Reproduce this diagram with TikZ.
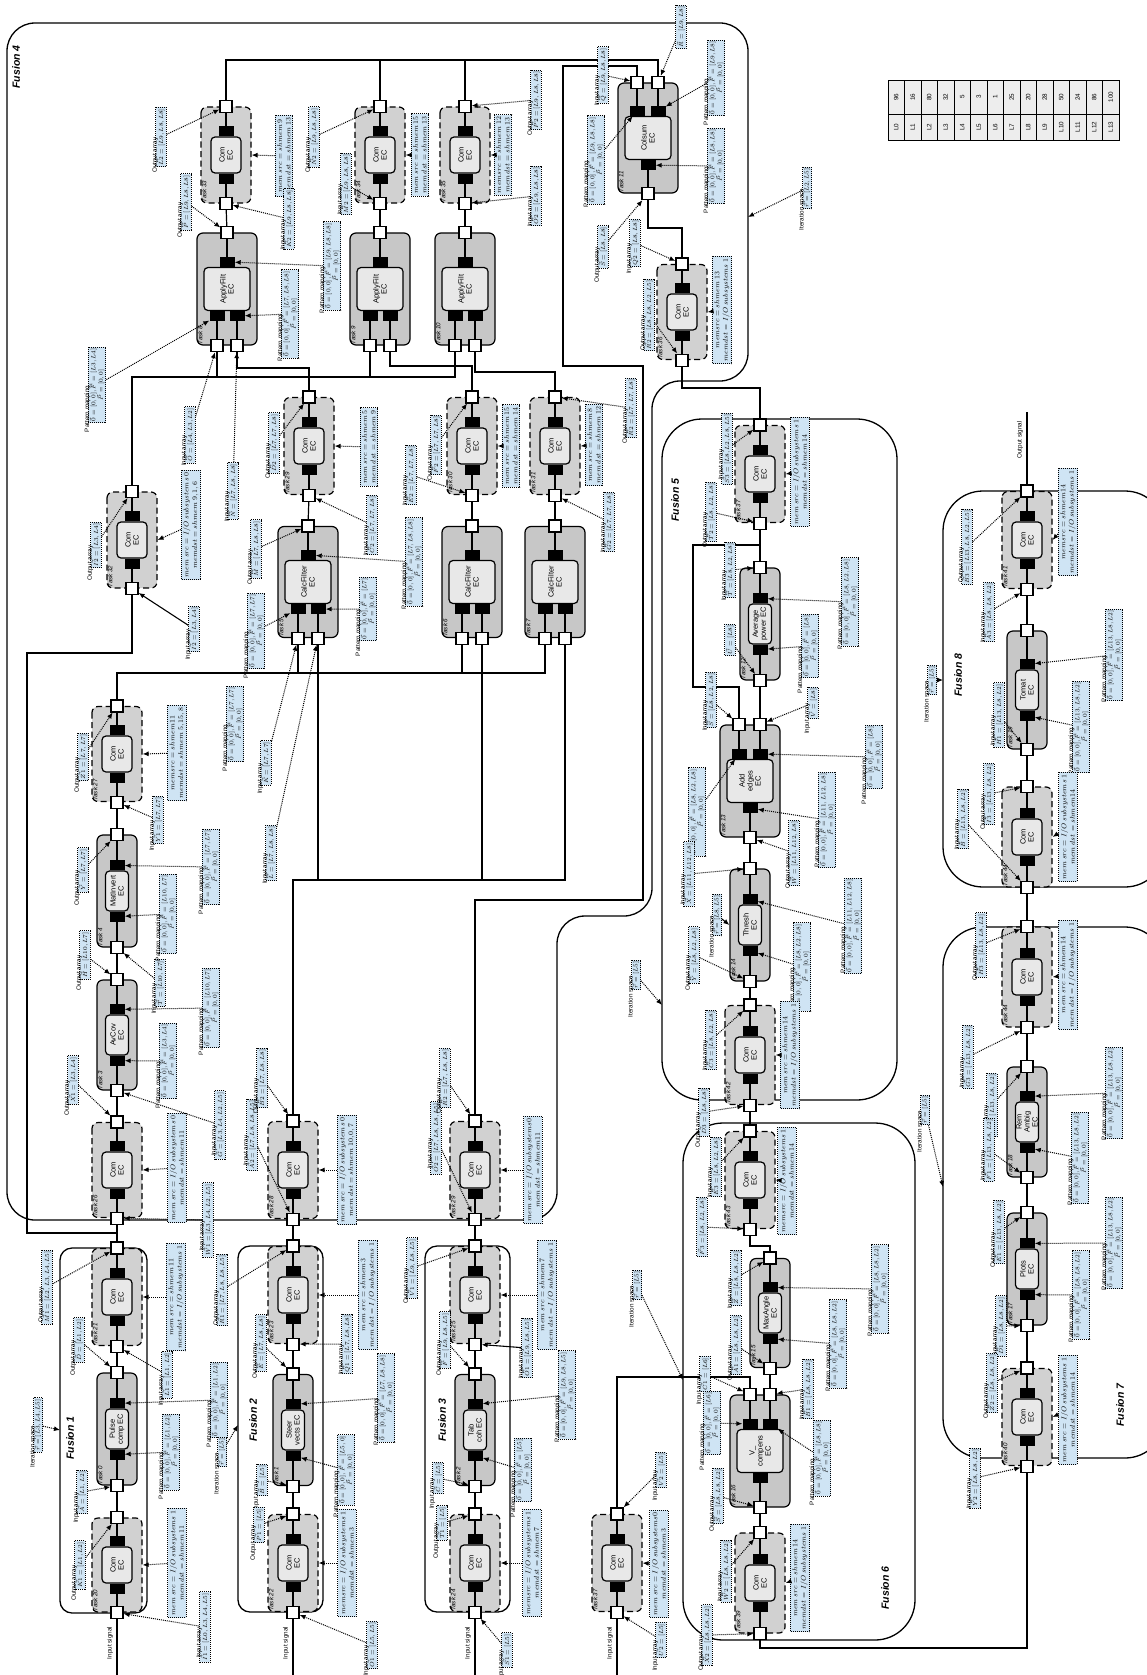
\documentclass[tikz,border=0pt]{standalone}
\usepackage{fontspec}
\setmainfont{Liberation Serif}
\setsansfont{Liberation Sans}
\usetikzlibrary{arrows.meta,calc}
\definecolor{lblue}{HTML}{CFE4F4}
\pgfdeclarelayer{bg}
\pgfsetlayers{bg,main}
\tikzset{
 wire/.style={line width=1.2pt},
 cbox/.style={draw,line width=1.2pt,fill=black!22,rounded corners=6pt,inner sep=0pt},
 mbox/.style={draw,line width=1.2pt,dash pattern=on 6pt off 3.5pt,fill=black!18,rounded corners=6pt,inner sep=0pt},
 ecbox/.style={draw,line width=1.2pt,fill=black!9,rounded corners=4pt,inner sep=0pt,align=center,font=\sffamily\fontsize{7.5}{8}\selectfont},
 ecc/.style={minimum width=40pt,minimum height=23pt},
 ecm/.style={minimum width=36pt,minimum height=30pt},
 ecd/.style={minimum width=43pt,minimum height=46pt},
 bar/.style={fill=black,minimum width=10pt,minimum height=15pt,inner sep=0pt},
 port/.style={draw,line width=1.2pt,fill=white,minimum size=12pt,inner sep=0pt},
 tlab/.style={font=\sffamily\itshape\fontsize{6.2}{6.2}\selectfont,inner sep=1.2pt},
 fus/.style={line width=1.3pt,rounded corners=#1},
 lbox/.style={draw,densely dotted,line width=1pt,fill=lblue,inner sep=1.5pt,align=center,font=\fontsize{6.3}{7.5}\selectfont},
 ltitle/.style={font=\sffamily\fontsize{6.3}{7}\selectfont,inner sep=0.6pt},
 larr/.style={densely dotted,line width=1pt,-{Latex[length=6pt,width=5pt]}},
 sarr/.style={line width=1.1pt,-{Latex[length=6pt,width=5pt]}},
 flab/.style={font=\sffamily\bfseries\itshape\fontsize{10.5}{11}\selectfont},
 tabf/.style={font=\sffamily\fontsize{6.3}{7}\selectfont,inner sep=0pt},
}
\newcommand\TK[9]{%
  \node[#6,minimum width=#4pt,minimum height=#5pt] (#1) at (#2,#3) {};
  \node[ecbox,#7] (#1ec) at (#2,#3) {#8};
  \node[tlab,anchor=north west] at (#1.north west) {#9};}
\newcommand\TP[3]{%
  \foreach \q [count=\k] in {#2}{%
    \draw[wire] ($(#1.east)+(\q,0)$) -- ($(#1ec.east)+(\q,0)$);
    \node[bar] (#1tb\k) at ($(#1ec.east)+(\q,-5)$) {};
    \node[port] (#1t\k) at ($(#1.east)+(\q,0)$) {};}%
  \foreach \q [count=\k] in {#3}{%
    \draw[wire] ($(#1.west)+(\q,0)$) -- ($(#1ec.west)+(\q,0)$);
    \node[bar] (#1bb\k) at ($(#1ec.west)+(\q,5)$) {};
    \node[port] (#1b\k) at ($(#1.west)+(\q,0)$) {};}}
\newcommand\COM[5]{\TK{#1}{#2}{#3}{#4}{50}{mbox}{ecm}{Com\\EC}{#5}\TP{#1}{0}{0}}
\newcommand\CMP[6]{\TK{#1}{#2}{#3}{#4}{40}{cbox}{ecc}{#5}{#6}\TP{#1}{0}{0}}
\newcommand\LB[5]{\node[lbox,label={[ltitle]above:#4}] (#1) at (#2,#3) {#5};}
\newcommand\LBN[4]{\node[lbox] (#1) at (#2,#3) {#4};}
\newcommand\LA[2]{\draw[larr] (#1) -- (#2);}
\newcommand\IA[4]{\LB{#1}{#2}{#3}{Input array}{$#4$}}
\newcommand\OA[4]{\LB{#1}{#2}{#3}{Output array}{$#4$}}
\newcommand\MEM[5]{\node[lbox,inner sep=2.2pt,font=\fontsize{7}{8.5}\selectfont] (#1) at (#2,#3) {$#4$\\$#5$};}
\newcommand\PM[4]{\LB{#1}{#2}{#3}{Pattern mapping}{$\vec{0}=[0,0],\vec{F}=[#4]$\\$\vec{P}=[0,0]$}}
\newcommand\IS[4]{\LB{#1}{#2}{#3}{Iteration space}{$\vec{r}=[#4]$}}
\begin{document}
\begin{tikzpicture}[x={(0,-1pt)},y={(-1pt,0)},rotate=90,transform shape]
\useasboundingbox (0,0) rectangle (1147,1675);
% ---------------- tasks
\COM{t20}{117}{1565}{94}{Task 20}
\CMP{t0}{117}{1429}{112}{Pulse\\comp EC}{Task 0}
\COM{t21}{117}{1297}{97}{Task 21}
\COM{t22}{293}{1563}{97}{Task 22}
\CMP{t1}{293}{1430}{111}{Steer\\vects EC}{Task 1}
\COM{t23}{293}{1295}{97}{Task 23}
\COM{t24}{475}{1563}{97}{Task 24}
\CMP{t2}{475}{1430}{111}{Tab\\coh EC}{Task 2}
\COM{t25}{475}{1295}{97}{Task 25}
\COM{t26}{117}{1170}{95}{Task 26}
\CMP{t3}{117}{1035}{110}{AvCov\\EC}{Task 3}
\CMP{t4}{117}{891}{112}{MatInvert\\EC}{Task 4}
\COM{t27}{117}{754}{95}{Task 27}
\COM{t28}{293}{1170}{97}{Task 28}
\COM{t29}{475}{1170}{97}{Task 29}
\COM{t32}{132}{540}{96}{Task 32}
\TK{t5}{308}{582}{111}{60}{cbox}{ecd}{CalcFilter\\EC}{Task 5}\TP{t5}{0}{-10,10}
\TK{t6}{472}{582}{111}{60}{cbox}{ecd}{CalcFilter\\EC}{Task 6}\TP{t6}{0}{-10,10}
\TK{t7}{555}{582}{111}{60}{cbox}{ecd}{CalcFilter\\EC}{Task 7}\TP{t7}{0}{-10,10}
\COM{t29x}{309}{446}{97}{Task 29}
\COM{t30}{472}{446}{97}{Task 30}
\COM{t31}{555}{446}{97}{Task 31}
\TK{t8}{227}{289}{112}{60}{cbox}{ecd}{ApplyFilt\\EC}{Task 8}\TP{t8}{0}{-10,10}
\TK{t9}{380}{289}{112}{60}{cbox}{ecd}{ApplyFilt\\EC}{Task 9}\TP{t9}{0}{-10,10}
\TK{t10}{465}{289}{112}{60}{cbox}{ecd}{ApplyFilt\\EC}{Task 10}\TP{t10}{0}{-10,10}
\COM{t33}{226}{155}{96}{Task 33}
\COM{t34}{380}{155}{96}{Task 34}
\COM{t35}{465}{155}{96}{Task 35}
\TK{t11}{648}{138}{110}{60}{cbox}{ecd}{Colsum\\EC}{Task 11}\TP{t11}{-11,10}{0}
\COM{t36}{682}{312}{95}{Task 36}
\COM{t37}{760}{474}{97}{Task 37}
\CMP{t12}{760}{624}{112}{Average\\power EC}{Task 12}
\TK{t13}{750}{781}{112}{60}{cbox}{ecd}{Add\\edges\\EC}{Task 13}\TP{t13}{-11,10}{0}
\CMP{t14}{750}{925}{112}{Thresh\\EC}{Task 14}
\COM{t42}{750}{1055}{99}{Task 42}
\COM{t43}{750}{1180}{97}{Task 43}
\CMP{t15}{770}{1313}{109}{MaxAngle\\EC}{Task 15}
\TK{t16}{760}{1451}{112}{60}{cbox}{ecd}{V\_\\compens\\EC}{Task 16}\TP{t16}{-10,10}{0}
\COM{t39}{760}{1583}{100}{Task 39}
\COM{t37x}{617}{1563}{97}{Task 37}
\COM{t41}{1027}{540}{97}{Task 41}
\CMP{t19}{1027}{690}{118}{Tomat\\EC}{Task 19}
\COM{t44}{1027}{837}{100}{Task 44}
\COM{t44x}{1027}{977}{100}{Task 44}
\CMP{t18}{1027}{1122}{110}{Rem\\Ambig\\EC}{Task 18}
\CMP{t17}{1027}{1269}{112}{Plots\\EC}{Task 17}
\COM{t40}{1027}{1417}{97}{Task 40}
% ---------------- frames and wires
\begin{pgfonlayer}{bg}
\draw[fus=12pt] (60,1248) rectangle (147,1613);
\draw[fus=12pt] (238,1246) rectangle (323,1612);
\draw[fus=12pt] (425,1246) rectangle (510,1612);
\draw[fus=28pt] (7,23) -- (748,23) -- (748,381) -- (652,381) -- (652,916) -- (557,916) -- (557,1220) -- (7,1220) -- cycle;
\draw[fus=40pt] (662,419) rectangle (897,1100);
\draw[fus=40pt] (683,1123) rectangle (915,1640);
\draw[fus=40pt] (943,927) rectangle (1165,1458);
\draw[fus=40pt] (943,491) rectangle (1165,887);
\draw[wire] (t20b1) -- (117,1675);
\draw[wire] (t22b1) -- (293,1675);
\draw[wire] (t24b1) -- (475,1675);
\draw[wire] (t37xb1) -- (617,1675);
\draw[wire] (t20t1) -- (t0b1); \draw[wire] (t0t1) -- (t21b1);
\draw[wire] (t22t1) -- (t1b1); \draw[wire] (t1t1) -- (t23b1);
\draw[wire] (t24t1) -- (t2b1); \draw[wire] (t2t1) -- (t25b1);
\draw[wire] (t21t1) -- (t26b1);
\draw[wire] (117,1233) -- (27,1233) -- (27,653) -- (132,653) -- (t32b1);
\draw[wire] (t23t1) -- (t28b1);
\draw[wire] (t25t1) -- (t29b1);
\draw[wire] (t26t1) -- (t3b1); \draw[wire] (t3t1) -- (t4b1); \draw[wire] (t4t1) -- (t27b1);
\draw[wire] (t27t1) -- (117,673) -- (545,673) -- (t7b1);
\draw[wire] (t5b1) -- (298,673); \draw[wire] (t6b1) -- (462,673);
\draw[wire] (t28t1) -- (293,880) -- (565,880) -- (t7b2);
\draw[wire] (t5b2) -- (318,880); \draw[wire] (t6b2) -- (482,880);
\draw[wire] (t29t1) -- (475,900) -- (643,900) -- (643,366) -- (563,366) -- (563,66) -- (637,66) -- (t11t1);
\draw[wire] (t5t1) -- (t29xb1);
\draw[wire] (t6t1) -- (t30b1);
\draw[wire] (t7t1) -- (t31b1);
\draw[wire] (t8b2) -- (237,368) -- (309,368) -- (t29xt1);
\draw[wire] (t9b2) -- (390,366) -- (472,366) -- (t30t1);
\draw[wire] (t10b2) -- (475,372) -- (555,372) -- (t31t1);
\draw[wire] (t32t1) -- (132,377) -- (455,377) -- (t10b1);
\draw[wire] (t8b1) -- (217,377); \draw[wire] (t9b1) -- (370,377);
\draw[wire] (t33b1) -- (t8t1); \draw[wire] (t34b1) -- (t9t1); \draw[wire] (t35b1) -- (t10t1);
\draw[wire] (t33t1) -- (226,60) -- (658,60) -- (t11t2);
\draw[wire] (t34t1) -- (380,60); \draw[wire] (t35t1) -- (465,60);
\draw[wire] (t11b1) -- (648,228) -- (682,228) -- (t36t1);
\draw[wire] (t36b1) -- (682,388) -- (760,388) -- (t37t1);
\draw[wire] (t37b1) -- (t12t1);
\draw[wire] (t12b1) -- (t13t2);
\draw[wire] (t13t1) -- (739,687) -- (693,687) -- (693,545) -- (760,545);
\draw[wire] (t13b1) -- (t14t1); \draw[wire] (t14b1) -- (t42t1); \draw[wire] (t42b1) -- (t43t1);
\draw[wire] (t43b1) -- (750,1246) -- (770,1246) -- (t15t1);
\draw[wire] (t15b1) -- (t16t2);
\draw[wire] (t16t1) -- (750,1377) -- (617,1377) -- (t37xt1);
\draw[wire] (t16b1) -- (t39t1);
\draw[wire] (t39b1) -- (760,1648) -- (1027,1648) -- (t40b1);
\draw[wire] (t40t1) -- (t17b1); \draw[wire] (t17t1) -- (t18b1); \draw[wire] (t18t1) -- (t44xb1);
\draw[wire] (t44xt1) -- (t44b1); \draw[wire] (t44t1) -- (t19b1); \draw[wire] (t19t1) -- (t41b1);
\draw[wire] (t41t1) -- (1027,412);
\end{pgfonlayer}
% ---------------- fusion labels, signals
\node[flab] at (70,1438) {Fusion 1};
\node[flab] at (253,1420) {Fusion 2};
\node[flab] at (442,1420) {Fusion 3};
\node[flab] at (16,67) {Fusion 4};
\node[flab] at (675,500) {Fusion 5};
\node[flab] at (885,1588) {Fusion 6};
\node[flab] at (1120,1405) {Fusion 7};
\node[flab] at (958,675) {Fusion 8};
\node[ltitle] at (110,1643) {Input signal};
\node[ltitle] at (286,1643) {Input signal};
\node[ltitle] at (468,1643) {Input signal};
\node[ltitle] at (610,1643) {Input signal};
\node[ltitle] at (1020,440) {Output signal};
% ---------------- table
\foreach \n/\v [count=\k from 0] in {L0/96,L1/16,L2/80,L3/32,L4/5,L5/3,L6/1,L7/25,L8/20,L9/28,L10/50,L11/24,L12/86,L13/100}{
  \draw[line width=0.8pt,fill=black!7] ({888+16.5*\k},80) rectangle ({904.5+16.5*\k},140);
  \draw[line width=0.8pt] ({888+16.5*\k},114) -- ({904.5+16.5*\k},114);
  \node[tabf] at ({896.25+16.5*\k},97) {\v};
  \node[tabf] at ({896.25+16.5*\k},127) {\n};
}
% ---------------- labels: Fusion 1
\IS{is1}{38}{1425}{L3,L4,L5} \LA{is1}{60,1430}
\OA{l1}{47}{1287}{\vec{M1}=[L2,L3,L4,L5]} \LA{l1}{t21t1}
\OA{l2}{79}{1340}{\vec{D}=[L1,L2]} \LA{l2}{t0t1}
\IA{l3}{167}{1375}{\vec{L1}=[L1,L2]} \LA{l3}{t21b1}
\MEM{l4}{176}{1297}{mem\ src=shmem\ 11}{memdst=I/O\ subsystems\ 1} \LA{l4}{t21.south}
\PM{l5}{171}{1452}{L1,L2} \LA{l5}{t0bb1}
\PM{l6}{219}{1400}{L1,L2} \LA{l6}{t0tb1}
\IA{l7}{82}{1492}{\vec{A}=[L1,L2]} \LA{l7}{t0b1}
\OA{l8}{80}{1565}{\vec{K1}=[L1,L2]} \LA{l8}{t20t1}
\MEM{l9}{177}{1563}{mem\ src=I/O\ subsystems\ 1}{memdst=shmem\ 11} \LA{l9}{t20.south}
\IA{l10}{205}{1627}{\vec{I1}=[L0,L3,L4,L5]} \LA{l10}{t20b1}
% Fusion 2
\OA{l11}{222}{1290}{\vec{R1}=[L7,L8,L8,L5]} \LA{l11}{t23t1}
\IA{l12}{208}{1220}{\vec{W1}=[L3,L4,L2,L5]} \LA{l12}{t26b1}
\OA{l13}{261}{1343}{\vec{E}=[L7,L8,L8]} \LA{l13}{t1t1}
\IA{l14}{347}{1344}{\vec{Q1}=[L7,L8,L8]} \LA{l14}{t23b1}
\MEM{l15}{368}{1295}{mem\ src=shmem3}{mem\ dst=I/O\ subsystems\ 1} \LA{l15}{t23.south}
\PM{l16}{386}{1398}{L7,L8,L8} \LA{l16}{t1tb1}
\PM{l17}{346}{1470}{L5,0} \LA{l17}{t1bb1}
\IS{is2}{222}{1452}{L5} \LA{is2}{238,1425}
\IA{l18}{262}{1480}{\vec{B}=[L5]} \LA{l18}{t1b1}
\OA{l19}{259}{1525}{\vec{P1}=[L5]} \LA{l19}{t22t1}
\MEM{l20}{347}{1563}{memsrc=I/O\ subsystems\ 1}{memdst=shmem\ 3} \LA{l20}{t22.south}
\IA{l21}{372}{1645}{\vec{O1}=[L5,L5]} \LA{l21}{t22b1}
\IA{l22}{252}{1135}{\vec{A2}=[L7,L8,L8,L5]} \LA{l22}{t28b1}
\OA{l23}{262}{1078}{\vec{B2}=[L7,L8,L8]} \LA{l23}{t28t1}
\MEM{l24}{347}{1170}{mem\ src=I/O\ subsystems\ 0}{mem\ dst=shmem\ 10,0,7} \LA{l24}{t28.south}
% Fusion 3
\OA{l25}{412}{1268}{\vec{V1}=[L9,L8,L5]} \LA{l25}{t25t1}
\OA{l26}{445}{1340}{\vec{F}=[L9,L8,L5]} \LA{l26}{t2t1}
\IA{l27}{527}{1348}{\vec{O1}=[L9,L8,L5]} \draw[sarr] (l27) -- (t25b1);
\MEM{l28}{547}{1295}{mem\ src=shmem7}{mem\ dst=I/O\ subsystems\ 1} \LA{l28}{t25.south}
\PM{l29}{567}{1395}{L9,L8,L5} \LA{l29}{t2tb1}
\PM{l30}{523}{1470}{L5} \LA{l30}{t2bb1}
\IA{l31}{438}{1478}{\vec{C}=[L5]} \LA{l31}{t2b1}
\OA{l32}{442}{1523}{\vec{T1}=[L5]} \LA{l32}{t24t1}
\MEM{l33}{532}{1563}{memsrc=I/O\ subsystems\ 1}{memdst=shmem7} \LA{l33}{t24.south}
\IA{l34}{507}{1650}{\vec{S1}=[L5]} \LA{l34}{t24b1}
\IA{l35}{436}{1138}{\vec{O2}=[L7,L8,L8,L5]} \LA{l35}{t29b1}
\OA{l36}{445}{1078}{\vec{R2}=[L7,L8,L8]} \LA{l36}{t29t1}
\MEM{l37}{533}{1170}{mem\ src=I/O\ subsystems0}{mem\ dst=shmem11} \LA{l37}{t29.south}
% tasks 26,3,4,27
\OA{l38}{73}{1080}{\vec{X1}=[L3,L4]} \LA{l38}{t26t1}
\MEM{l39}{177}{1168}{mem\ src=I/O\ subsystems\ 0}{memdst=shmem\ 11} \LA{l39}{t26.south}
\IA{l40}{220}{1125}{\vec{G}=[L3,L4,L2,L5]} \LA{l40}{t3b1}
\PM{l41}{168}{1061}{L3,L4} \LA{l41}{t3bb1}
\PM{l42}{211}{1008}{L10,L7} \LA{l42}{t3tb1}
\OA{l43}{85}{955}{\vec{H}=[L10,L7]} \LA{l43}{t3t1}
\IA{l44}{160}{983}{\vec{T}=[L10,L7]} \LA{l44}{t4b1}
\PM{l45}{168}{914}{L10,L7} \LA{l45}{t4bb1}
\PM{l46}{211}{867}{L7,L7} \LA{l46}{t4tb1}
\OA{l47}{83}{870}{\vec{Y}=[L7,L7]} \LA{l47}{t4t1}
\IA{l48}{158}{820}{\vec{Y1}=[L7,L7]} \LA{l48}{t27b1}
\OA{l49}{83}{757}{\vec{Z1}=[L7,L7]} \LA{l49}{t27t1}
\MEM{l50}{177}{753}{memsrc=shmem11}{memdst=shmem\ 5,15,8} \LA{l50}{t27.south}
\IA{l51}{271}{853}{\vec{L}=[L7,L8,L8]} \LA{l51}{t5b2}
\IA{l52}{266}{763}{\vec{K}=[L7,L7]} \LA{l52}{t5b1}
\PM{l53}{235}{724}{L7,L7}
\PM{l54}{256}{631}{L7,L7} \LA{l54}{t5bb1}
\PM{l55}{368}{609}{L7} \LA{l55}{t5bb2}
\PM{l56}{414}{562}{L7,L8,L8} \LA{l56}{t5tb1}
\OA{l57}{256}{549}{\vec{M}=[L7,L8,L8]} \LA{l57}{t5t1}
% tasks 29,30,31,32
\IA{l58}{372}{525}{\vec{C2}=[L7,L7,L8]} \LA{l58}{t29xb1}
\OA{l59}{274}{443}{\vec{D2}=[L7,L7,L8]} \LA{l59}{t29xt1}
\MEM{l60}{369}{447}{mem\ src=shmem\ 5}{mem\ dst=shmem\ 9} \LA{l60}{t29x.south}
\IA{l61}{233}{491}{\vec{N}=[L7,L8,L8]} \LA{l61}{t8b2}
\IA{l62}{190}{435}{\vec{O}=[L4,L3,L2]} \LA{l62}{t8b1}
\OA{l63}{96}{545}{\vec{I2}=[L3,L4]} \LA{l63}{t32t1}
\MEM{l64}{191}{525}{mem\ src=I/O\ subsystems\ 0}{memdst=shmem\ 9,1,6} \LA{l64}{t32.south}
\IA{l65}{194}{629}{\vec{I2}=[L3,L4]} \draw[sarr] (l65) -- (t32b1);
\OA{l66}{436}{445}{\vec{F2}=[L7,L7,L8]} \LA{l66}{t30t1}
\IA{l67}{411}{475}{\vec{E2}=[L7,L7,L8]} \LA{l67}{t30b1}
\MEM{l68}{511}{446}{mem\ src=shmem\ 15}{mem\ dst=shmem\ 14} \LA{l68}{t30.south}
\MEM{l69}{594}{445}{mem\ src=shmem\ 8}{mem\ dst=shmem\ 12} \LA{l69}{t31.south}
\OA{l70}{631}{408}{\vec{R2}=[L7,L7,L8]} \LA{l70}{t31t1}
\IA{l71}{609}{522}{\vec{G2}=[L7,L7,L8]} \LA{l71}{t31b1}
% tasks 8,9,10,33,34,35
\PM{l72}{97}{385}{L3,L4} \LA{l72}{t8bb1}
\PM{l73}{290}{314}{L7,L8,L8} \LA{l73}{t8bb2}
\PM{l74}{332}{266}{L9,L8,L8} \LA{l74}{t8tb1}
\OA{l75}{161}{137}{\vec{L2}=[L9,L8,L8]} \LA{l75}{t33t1}
\OA{l76}{186}{202}{\vec{P}=[L9,L8,L8]} \LA{l76}{t8t1}
\MEM{l77}{284}{156}{mem\ src=shmem\ 9}{mem\ dst=shmem\ 13} \LA{l77}{t33.south}
\IA{l78}{289}{219}{\vec{K2}=[L9,L8,L8]} \LA{l78}{t33b1}
\OA{l79}{314}{137}{\vec{N2}=[L9,L8,L8]} \LA{l79}{t34t1}
\IA{l80}{346}{184}{\vec{M2}=[L9,L8,L8]} \LA{l80}{t34b1}
\MEM{l81}{420}{155}{mem\ src=shmem\ 15}{mem\ dst=shmem\ 13} \LA{l81}{t34.south}
\MEM{l82}{503}{155}{memsrc=shmem\ 12}{memdst=shmem\ 13} \LA{l82}{t35.south}
\OA{l83}{536}{100}{\vec{P2}=[L9,L8,L8]} \LA{l83}{t35t1}
\IA{l84}{536}{196}{\vec{O2}=[L9,L8,L8]} \LA{l84}{t35b1}
% Colsum
\IA{l85}{603}{75}{\vec{Q}=[L9,L8,L8]} \LA{l85}{t11t1}
\LBN{l86}{681}{27}{$\vec{R}=[L9,L8]$} \LA{l86}{t11t2}
\PM{l87}{716}{78}{L9,L8} \LA{l87}{t11tb2}
\PM{l88}{596}{160}{L9,L8,L8} \LA{l88}{t11tb1}
\PM{l89}{716}{166}{L8,L8} \LA{l89}{t11bb1}
\OA{l90}{603}{247}{\vec{S}=[L8,L8]} \LA{l90}{t11b1}
\IA{l91}{635}{243}{\vec{Q2}=[L8,L8]} \LA{l91}{t36t1}
\OA{l92}{649}{315}{\vec{R2}=[L8,L8,L2,L5]} \LA{l92}{t36b1}
\MEM{l93}{722}{310}{memsrc=shmem\ 13}{memdst=I/O\ subsystems\ 1} \LA{l93}{t36.south}
\IS{is4}{807}{188}{L2,L5} \LA{is4}{748,217}
% Fusion 5
\IA{l94}{727}{449}{\vec{S3}=[L8,L2,L8,L5]} \LA{l94}{t37t1}
\MEM{l95}{800}{472}{mem\ src=I/O\ subsystems\ 1}{memdst=shmem\ 14} \LA{l95}{t37.south}
\OA{l96}{711}{512}{\vec{T2}=[L8,L2,L8]} \LA{l96}{t37b1}
\IA{l97}{730}{570}{\vec{T}=[L8,L2,L8]} \LA{l97}{t12t1}
\LBN{l98}{730}{640}{$\vec{U}=[L8]$} \LA{l98}{t12b1}
\PM{l99}{850}{602}{L8,L2,L8} \LA{l99}{t12tb1}
\PM{l100}{810}{646}{L8} \LA{l100}{t12bb1}
\IA{l101}{711}{700}{\vec{S}=[L8,L2,L8]} \LA{l101}{t13t1}
\LBN{l102}{697}{812}{$\vec{0}=[0,0],\vec{F}=[L8,L2,L8]$\\$\vec{P}=[0,0]$} \LA{l102}{t13tb1}
\IA{l103}{813}{703}{\vec{V}=[L8]} \LA{l103}{t13t2}
\PM{l104}{874}{757}{L8} \LA{l104}{t13tb2}
\PM{l105}{827}{820}{L11,L12,L8} \LA{l105}{t13bb1}
\OA{l106}{794}{853}{\vec{W}=[L11,L12,L8]} \LA{l106}{t13b1}
\IA{l107}{689}{874}{\vec{X}=[L11,L12,L8]} \LA{l107}{t14t1}
\IS{is5b}{717}{915}{L8,L5} \draw[sarr] (is5b) -- (t14.north);
\OA{l108}{694}{955}{\vec{Y}=[L8,L2,L8]} \LA{l108}{t14b1}
\PM{l109}{802}{967}{L8,L2,L8} \LA{l109}{t14bb1}
\PM{l110}{853}{926}{L11,L12,L8} \LA{l110}{t14tb1}
\IA{l111}{711}{1040}{\vec{C3}=[L8,L2,L8]} \LA{l111}{t42t1}
\MEM{l112}{790}{1055}{mem\ src=shmem\ 14}{memdst=I/O\ subsystems\ 1} \LA{l112}{t42.south}
\IS{is5}{636}{975}{L5} \LA{is5}{662,1005}
% Fusion 6
\OA{l113}{704}{1112}{\vec{D3}=[L8,L8]} \LA{l113}{t42b1}
\IA{l114}{716}{1167}{\vec{E3}=[L8,L2,L8]} \LA{l114}{t43t1}
\LBN{l115}{702}{1227}{$\vec{F3}=[L8,L2,L8]$} \LA{l115}{t43b1}
\MEM{l116}{787}{1181}{memsrc=I/O\ subsystems\ 1}{memdst=shmem\ 14} \LA{l116}{t43.south}
\IA{l117}{736}{1278}{\vec{Z}=[L8,L8,L2]} \LA{l117}{t15t1}
\OA{l118}{736}{1345}{\vec{A1}=[L8,L8,L2]} \LA{l118}{t15b1}
\PM{l119}{880}{1289}{L8,L8,L2} \LA{l119}{t15tb1}
\PM{l120}{838}{1344}{L8,L8,L2} \LA{l120}{t15bb1}
\IA{l121}{705}{1374}{\vec{C1}=[L6]} \LA{l121}{t16t1}
\IA{l122}{808}{1389}{\vec{B1}=[L8,L8,L2]} \LA{l122}{t16t2}
\PM{l123}{712}{1423}{L6} \LA{l123}{t16tb1}
\PM{l124}{822}{1458}{L8,L8} \LA{l124}{t16tb2}
\OA{l125}{718}{1496}{\vec{S}=[L8,L8,L2]} \LA{l125}{t16b1}
\IA{l126}{726}{1571}{\vec{W2}=[L8,L8,L2]} \LA{l126}{t39t1}
\MEM{l127}{800}{1578}{mem\ src=shmem\ 14}{memdst=I/O\ subsystems\ 1} \LA{l127}{t39.south}
\OA{l128}{707}{1635}{\vec{X2}=[L8,L8,L2]} \LA{l128}{t39b1}
\IS{is6}{637}{1285}{L5} \LA{is6}{683,1380}
\IA{l129}{661}{1470}{\vec{V2}=[L5]} \LA{l129}{t37xt1}
\MEM{l130}{659}{1564}{mem\ src=I/O\ subsystems0}{memdst=shmem3} \LA{l130}{t37x.south}
\IA{l131}{661}{1640}{\vec{U2}=[L5]} \LA{l131}{t37xb1}
% Fusion 8
\OA{l132}{967}{547}{\vec{B3}=[L13,L8,L2,L5]} \LA{l132}{t41t1}
\IA{l133}{989}{612}{\vec{A3}=[L8,L8,L2]} \LA{l133}{t41b1}
\MEM{l134}{1068}{522}{memsrc=shmem14}{memdst=I/O\ subsystems\ 1} \LA{l134}{t41.south}
\IA{l135}{999}{715}{\vec{H1}=[L13,L8,L2]} \LA{l135}{t19b1}
\PM{l136}{1081}{727}{L13,L8,L2} \LA{l136}{t19bb1}
\PM{l137}{1114}{655}{L13,L8,L2} \LA{l137}{t19tb1}
\IA{l138}{963}{819}{\vec{B}=[L13,L8,L2]} \LA{l138}{t44b1}
\OA{l139}{989}{794}{\vec{I3}=[L13,L8,L2]} \LA{l139}{t44t1}
\MEM{l140}{1068}{827}{mem\ src=I/O\ subsystems\ 1}{mem\ dst=shmem14} \LA{l140}{t44.south}
\IS{is8}{932}{680}{L5} \LA{is8}{943,680}
% Fusion 7
\OA{l141}{981}{945}{\vec{H3}=[L13,L8,L2]} \LA{l141}{t44xt1}
\MEM{l142}{1068}{975}{mem\ src=shmem14}{mem\ dst=I/O\ subsystems\ 1} \LA{l142}{t44x.south}
\IA{l143}{968}{1057}{\vec{G3}=[L13,L8,L2]} \LA{l143}{t44xb1}
\OA{l144}{992}{1105}{\vec{G1}=[L13,L8,L2]} \LA{l144}{t18t1}
\IA{l145}{989}{1150}{\vec{F1}=[L13,L8,L2]} \LA{l145}{t18b1}
\PM{l146}{1114}{1093}{L13,L8,L2} \LA{l146}{t18tb1}
\PM{l147}{1080}{1158}{L13,L8,L2} \LA{l147}{t18bb1}
\OA{l148}{999}{1232}{\vec{E1}=[L13,L8,L2]} \LA{l148}{t17t1}
\IA{l149}{1001}{1326}{\vec{D1}=[L8,L8,L2]} \LA{l149}{t17b1}
\PM{l150}{1114}{1243}{L13,L8,L2} \LA{l150}{t17tb1}
\PM{l151}{1081}{1295}{L8,L8,L2} \LA{l151}{t17bb1}
\OA{l152}{992}{1383}{\vec{Z2}=[L8,L8,L2]} \LA{l152}{t40t1}
\MEM{l153}{1068}{1410}{mem\ src=I/O\ subsystems\ 1}{memdst=shmem14} \LA{l153}{t40.south}
\IA{l154}{975}{1478}{\vec{Y2}=[L8,L8,L2]} \LA{l154}{t40b1}
\IS{is7}{925}{1110}{L5} \LA{is7}{943,1187}
\end{tikzpicture}
\end{document}
